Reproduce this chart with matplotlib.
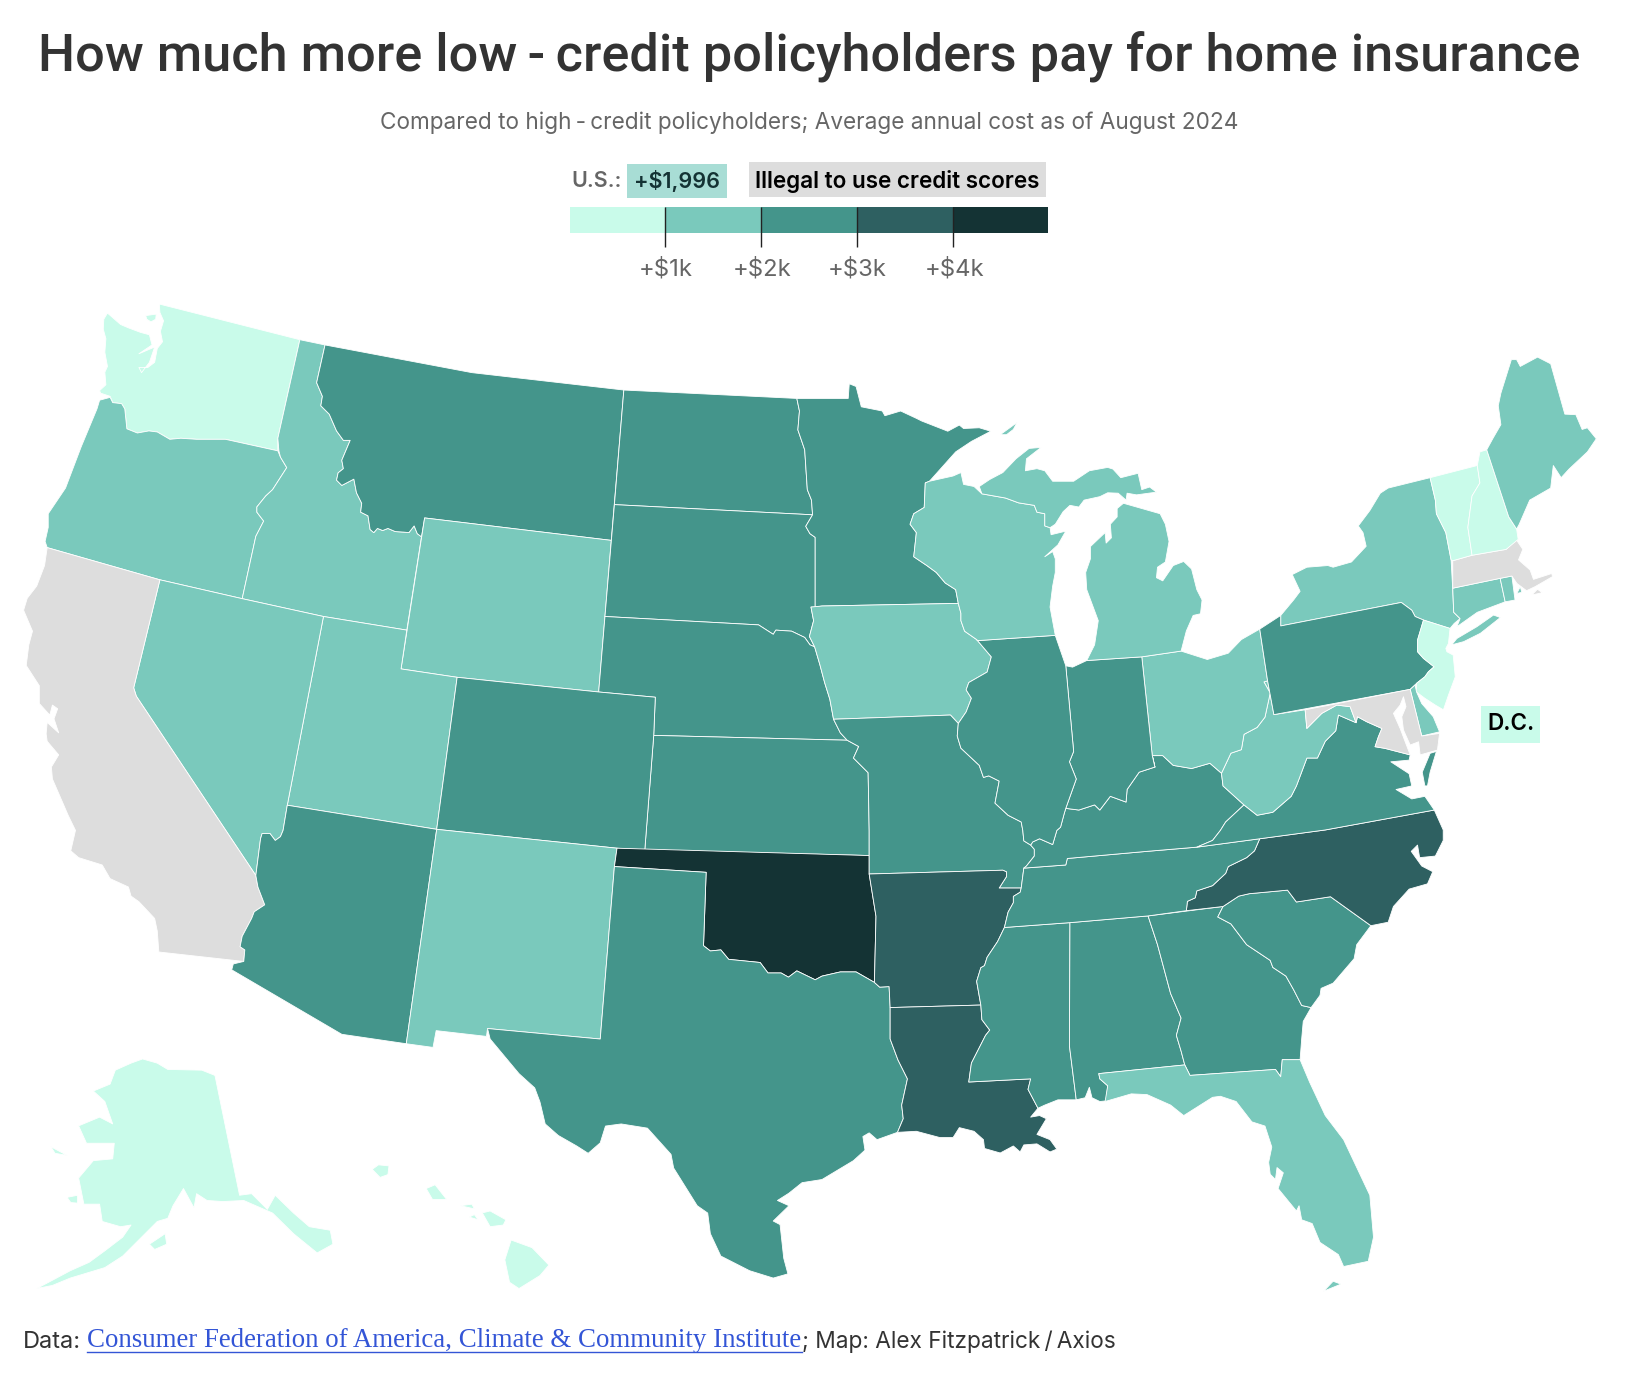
# home insurance map, state outlines (x, y in a 1568 wide frame)
import matplotlib
matplotlib.use('Agg')
import matplotlib.pyplot as plt
from matplotlib.patches import Polygon, Rectangle

W, H = 1568, 1312.4
FONT = ['Inter', 'DejaVu Sans']
TITLE_FONT = ['Roboto', 'Inter', 'DejaVu Sans']

title = 'How much more low\u2009-\u2009credit policyholders pay for home insurance'
subtitle = 'Compared to high\u2009-\u2009credit policyholders; Average annual cost as of August 2024'
us_label = 'U.S.:'
us_value = '+$1,996'
illegal_label = 'Illegal to use credit scores'
dc_label = 'D.C.'

bin_colors = ['#C9FBEA', '#7AC9BC', '#44958B', '#2E6061', '#143334']
illegal_color = '#DDDDDD'
us_color = '#A8DDD5'
tick_labels = ['+$1k', '+$2k', '+$3k', '+$4k']

state_bin = {
    'WA': 0, 'VT': 0, 'NH': 0, 'NJ': 0, 'AK': 0, 'HI': 0,
    'OR': 1, 'ID': 1, 'NV': 1, 'UT': 1, 'WY': 1, 'NM': 1, 'IA': 1, 'WI': 1, 'MI': 1, 'OH': 1,
    'WV': 1, 'NY': 1, 'CT': 1, 'RI': 1, 'DE': 1, 'ME': 1, 'FL': 1,
    'MT': 2, 'ND': 2, 'SD': 2, 'MN': 2, 'NE': 2, 'KS': 2, 'CO': 2, 'AZ': 2, 'TX': 2, 'MO': 2,
    'IL': 2, 'IN': 2, 'KY': 2, 'TN': 2, 'VA': 2, 'PA': 2, 'MS': 2, 'AL': 2, 'GA': 2, 'SC': 2,
    'AR': 3, 'LA': 3, 'NC': 3,
    'OK': 4,
    'CA': None, 'MA': None, 'MD': None,
}

# shared borders
OR_ID = [(265,418),(266,430),(267.5,436),(273.5,446),(260,467),(253.5,473),(245,483.5),(245,488.5),(251.5,497),(244,511.5),(231,571)]
OR_WA = [(107.5,384),(116,385),(119,390),(121,409),(131,413),(142,411),(150,412),(162,419),(172.5,418),(187.5,419),(215,419),(265,430)]
ID_MT = [(310,329),(302,365),(307.5,378),(306,387),(314,395),(321,411),(327.5,420),(334,420),(326,439),(327.5,447),(322.5,451),(321,458),(326,463),(337.5,457),(340,470),(345,480),(344,488.5),(351,492),(353,505),(356.5,508),(360,504),(365,506),(370,504),(377,507),(385,507.5),(390,508),(395,501.6),(398,509),(402,512)]
ND_MN = [(760,380),(762.5,392),(761,410),(767.5,429),(770,467),(774,477),(775,491)]
SD_MN = [(775,491),(768.5,502),(772.5,509),(777.5,512.5),(777.5,579)]
SD_IA = [(773.5,579),(776,592),(772,607),(777,617)]
SD_NE = [(577,588),(723.5,596),(737.5,605),(740,601),(755,602),(767.5,608),(772.5,615),(777,617)]
NE_IA = [(777,617),(782,634),(786.5,651),(791.5,667),(795,686)]
NE_MO = [(795,686),(801.5,699),(808,706)]
KS_MO = [(808,706),(819,712),(814,723),(828,737),(829,792),(829,816)]
OK_TX = [(671,902),(677.5,907),(687.5,906),(695,915),(725,918),(732.5,928),(745,928),(752,932),(760,926),(777.5,934.5),(784,931),(801.5,927),(816.5,927),(834,937)]
TX_AR = [(834,937),(839,941.5),(848,941),(849,961)]
TX_LA = [(849,961),(849,991),(856.5,1011),(865.5,1029),(860,1054),(861.5,1067),(856,1080)]
AR_MO = [(829,833.6),(956.5,830),(960,831.6),(960,836),(953,847),(974,847)]
AR_TN = [(974,847),(973,851),(966.5,855),(966.5,861),(961.5,870),(958,884.6)]
AR_MS = [(958,884.6),(951.5,898),(941.5,913),(939,921),(935.5,923),(931.5,936),(935.5,958.6)]
LA_MS = [(935.5,958.6),(936.5,972.5),(944,982.5),(940,987.5),(926.5,1014),(924,1032),(983,1029),(980.5,1039),(990,1057)]
MO_IL = [(914,690),(913,702),(916.5,713.6),(934,730),(938,741.5),(943,740),(953,745),(949,766),(961.5,777.6),(974,784),(975.5,792),(976.5,802),(983,806)]
MO_KY = [(983,806),(986.5,810),(986.5,816.5),(979,826),(976.5,828)]
IA_WI = [(914,575.5),(916.5,585),(916.5,592),(920,602),(931.5,610)]
IA_IL = [(931.5,610),(945.5,626.5),(941.5,641),(924,651),(921.5,658),(926.5,666),(921.5,679),(914,690)]
MN_WI = [(882.5,460.6),(881.5,484),(871.5,490),(868,500),(874,508),(871.5,531),(884,539.4),(893,546),(901.5,556),(911.5,562.4),(914,575.5)]
WI_MI = [(929,464),(936.5,471),(959,475),(971.5,479.6),(986.5,482),(989,488.5),(996.5,490),(996.5,501.6),(1001.5,503.3)]
IL_IN = [(1016.5,635),(1024,716.7),(1020,726.6),(1026.5,743),(1016.5,771)]
IL_KY = [(1016.5,771),(1015,776),(1011.5,789),(1008,792),(1004,805.5),(991.5,800),(985,803),(983,806)]
IN_KY = [(1101.5,731.6),(1086.5,736.5),(1075,753),(1074,765),(1059,759.5),(1049,772.6),(1044,767.7),(1029,772.6),(1016.5,771)]
OH_KY = [(1165,737.5),(1154,728),(1136.5,733),(1119,730),(1109,720.7),(1099,720.7),(1101.5,731.6)]
OH_WV = [(1205.5,650.4),(1211.5,661),(1206.5,684),(1199,693.8),(1186.5,700.4),(1184,715),(1174,718.4),(1165,737.5)]
KY_WV = [(1165,737.5),(1166.5,749.6),(1186.5,767.7)]
KY_VA = [(1186.5,767.7),(1169,784),(1164,792),(1156.5,801.6),(1141.5,808)]
KY_TN = [(1141.5,808),(1094,812),(1018,818.8),(1016.5,825),(976.5,828)]
TN_VA = [(1141.5,808),(1201.5,800)]
TN_NC = [(1201.5,800),(1196.5,811.5),(1189,818),(1171.5,826.5),(1169,833),(1156.5,844.7),(1141.5,849.7),(1140,856.3),(1132.5,859.7),(1131.5,868.6)]
TN_SOUTH = [(1131.5,868.6),(1095,873.6),(1020.5,880),(958,884.6)]
VA_WV = [(1186.5,767.7),(1199,777.6),(1214,774.7),(1231.5,759.5),(1236.5,749.6),(1246.5,723),(1256.5,723),(1264,707),(1274,697),(1276.5,682),(1293.4,689.3)]
VA_MD = [(1293.4,689.3),(1294.7,683.6),(1303.6,688.4),(1318,694.8),(1314.7,702.7),(1311.5,712.2),(1321,713.8),(1345,720)]
WV_MD = [(1244.8,677),(1246.4,694.8),(1260.7,680.4),(1275,672.5),(1287.7,674),(1293.4,689.3)]
PA_NY = [(1221.5,597),(1336.5,574.6),(1346.5,582),(1349.7,588),(1357.7,591.4)]
PA_NJ = [(1357.7,591.4),(1352,610.5),(1352,621.6),(1357.7,628),(1367.8,636),(1362.4,640.7),(1359,645.5),(1351,651.8)]
AL_GA = [(1095,873.6),(1104,901),(1116.5,947.6),(1126.5,971),(1122,987.5),(1126.5,1002.5),(1130,1015.7)]
GA_SC = [(1166.5,864.6),(1161.5,874.6),(1174,881.2),(1189,901),(1211.5,916),(1214,922.7),(1226.5,931),(1234,944.3),(1241.5,959),(1250.5,961)]
SC_NC = [(1166.5,864.6),(1181.5,854.7),(1191.5,852.4),(1228,849),(1236.5,860.3),(1269,855.3),(1307.5,882.9)]
AL_FL = [(1048,1024),(1049,1029),(1056.5,1035.6),(1055,1050)]
AZ_NV = [(274,768),(270,792),(267.5,798),(262.5,801.6),(257.5,795),(250,795),(248.5,800),(244,835)]
AZ_CA = [(244,835),(246,846),(252.5,863),(242.5,869.6),(240,876),(231,893),(229,903),(233.5,906),(232.5,917)]

outlines = {
    'WA': [[(152,290),(286,324),(265,418)] + OR_WA[::-1] + [(105,378),(96,375),(95,372.5),(101,367),(100,355),(102.5,349.5),(100,336),(101,323),(98.5,314),(99,304.5),(102.5,298.6),(115,309.5),(122.5,312.7),(134,317),(142.5,319.3),(145,329),(132.5,337.4),(147.5,331),(142.5,345.6),(135,355.4),(132.5,350.5),(141,350.5),(147.5,345.6),(150,332.4),(155,326),(153,316),(156,306),(152.5,298)],
           [(139,301),(149,299.6),(148.5,304.5),(144,307),(140,304.5)]],
    'OR': [[(95,381.7),(105,379)] + OR_WA + OR_ID[2:] + [(152.5,553),(45,522.3),(43,516.4),(46,503),(46,490),(62.5,465.5),(77.5,426),(92.5,390)]],
    'ID': [[(286,324)] + ID_MT + [(388,601),(308.5,588)] + OR_ID[::-1]],
    'MT': [[(310,329),(450,355.4),(595,372),(583,515.4),(405,494)] + ID_MT[::-1]],
    'WY': [[(405,494),(583,515.4),(571,660),(436,646),(382.5,638)]],
    'ND': [[(595,372)] + ND_MN + [(586,481.3)]],
    'SD': [[(586,481.3)] + SD_MN + SD_IA + SD_NE[::-1][1:]],
    'NE': [SD_NE + NE_IA[1:] + NE_MO[1:] + [(623.5,701.4),(625,665),(571,660)]],
    'KS': [[(623.5,701.4)] + KS_MO + [(615,810.5)]],
    'UT': [[(308.5,588),(388,601),(382.5,638),(436,646),(416.5,791),(274,768)]],
    'CO': [[(436,646),(571,660),(625,665),(623.5,701.4),(615,810.5),(588.5,809),(416.5,791)]],
    'NV': [[(152.5,553),(231,571),(308.5,588)] + AZ_NV + [(130,664),(127.5,656)]],
    'CA': [[(45,522.3),(152.5,553),(127.5,656),(130,664)] + AZ_CA + [(151.5,908),(150,888),(147.5,876),(132.5,860),(125,854.7),(122.5,846),(105,838),(97.5,825),(75,818),(67.5,811.5),(72,792),(65,777.6),(60,766),(50,743),(49,731.6),(56,720),(45,707),(44,700),(45,689),(56,699),(51.5,685.6),(55,676),(50,672.5),(47.5,682),(37.5,671),(37.5,654),(25,634.7),(27.5,615),(31,602),(22.5,582),(26,570.6),(35,559),(42.5,539.4)]],
    'AZ': [AZ_NV + AZ_CA[1:] + [(222.5,919.4),(221,925),(326,986.5),(387.5,995.5),(416.5,791)]],
    'NM': [[(416.5,791),(588.5,809),(586,826.5),(572.5,991),(465,981),(464,988.5),(416,983),(413,999),(387.5,995.5)]],
    'OK': [[(588.5,809),(829,816),(829,833.6),(835.5,874),(834,937)] + OK_TX[::-1][1:] + [(673.5,832),(586,826.5)]],
    'TX': [[(586,826.5),(673.5,832)] + OK_TX + TX_AR[1:] + TX_LA[1:] + [(836.5,1087),(829,1080.5),(823,1084),(825,1097),(814,1107),(784,1125),(765,1128),(752.5,1138),(741.5,1145),(752.5,1150),(737.5,1164.6),(744,1168),(747.5,1200),(751.5,1215),(737.5,1219),(715,1212),(687.5,1198),(677.5,1176.6),(675,1157),(665,1150),(642.5,1114),(640,1101),(617.5,1076),(592.5,1072),(577.5,1074),(572.5,1090),(561,1100),(550,1093),(532.5,1083),(520,1072),(515,1051),(510,1037.6),(495,1024),(480,1006),(467.5,991),(465,981),(572.5,991)]],
    'MN': [ND_MN[::-1][-1:] + [(809,380),(810,366),(816.5,368.6),(821.5,388),(841.5,392),(844,396.5),(859,392),(874,399),(879,401.5),(904,411.3),(915,405.4),(919,408.7),(934,408),(945,411.3),(926.5,421),(911.5,431),(886.5,459)] + MN_WI + [(784,578),(777.5,579)] + SD_MN[::-1][1:] + ND_MN[::-1][1:]],
    'IA': [SD_IA + NE_IA[1:] + [(906.5,682),(914,690)] + IA_IL[::-1][1:] + IA_WI[::-1][1:] + [(784,578)]],
    'MO': [[(795,686),(906.5,682),(914,690)] + MO_IL[1:] + MO_KY[1:] + [(974,847),(953,847),(960,836),(960,831.6),(956.5,830),(829,833.6),(829,816)] + KS_MO[::-1][1:] + NE_MO[::-1][1:]],
    'AR': [AR_MO + AR_TN[1:] + AR_MS[1:] + [(849,961)] + TX_AR[::-1][1:] + [(835.5,874)]],
    'LA': [[(849,961),(935.5,958.6)] + LA_MS[1:] + [(983,1065.5),(991.5,1064),(998,1067),(989,1082),(1001.5,1087),(1008,1096),(1001.5,1098.7),(989,1091),(976.5,1092),(973,1098.7),(966.5,1093),(954,1099.7),(939,1095.4),(938,1087),(929,1079),(915,1075.5),(909,1085),(896.5,1085),(874,1079)] + TX_LA[::-1][:-1]],
    'MS': [[(958,884.6),(1020.5,880),(1020,997.5),(1026.5,1049),(1009,1049),(996.5,1054),(990,1057)] + LA_MS[::-1][1:] + AR_MS[::-1][1:]],
    'AL': [[(1020.5,880)] + AL_GA + AL_FL + [(1049,1050.6),(1041.5,1047),(1039,1037),(1035,1047),(1026.5,1049),(1020,997.5)]],
    'GA': [AL_GA + [(1135,1025.7),(1216.5,1020),(1221.5,1027),(1223,1010.7),(1240,1010.7),(1241.5,991),(1243,974.2)] + GA_SC[::-1] + [(1095,873.6)]],
    'SC': [SC_NC + [(1294,901),(1291.5,914.4),(1271.5,937.7),(1260,942.7),(1259,949.3)] + GA_SC[::-1]],
    'NC': [[(1201.5,800),(1264,791.6),(1368,772.6),(1376.5,791.6),(1376.5,801.6),(1369,816.5),(1354,818),(1352,806),(1346,812),(1356,826),(1366.5,831.4),(1361.5,843),(1344,848),(1329,864.6),(1324,879.6)] + SC_NC[::-1] + TN_NC[::-1]],
    'TN': [KY_TN[::-1] + TN_VA[1:] + TN_NC[1:] + TN_SOUTH[1:] + AR_TN[::-1][1:]],
    'KY': [KY_TN + MO_KY[::-1][1:] + IL_KY[::-1][1:] + IN_KY[::-1][1:] + OH_KY[::-1][1:] + KY_WV[1:] + KY_VA[1:]],
    'VA': [KY_VA[:1] + VA_WV[1:] + VA_MD[1:] + [(1344,725),(1326.5,726.6),(1344,738),(1346.5,749.6),(1331.5,753),(1346.5,762),(1359,759.5),(1368,772.6),(1264,791.6),(1201.5,800)] + TN_VA[::-1][1:] + KY_VA[::-1][1:-1],
           [(1359,749.6),(1356.5,736.5),(1364,718.5),(1370,716.7),(1364,736.5),(1361.5,749.6)]],
    'WV': [[(1209,649.4),(1215,681.6),(1244.8,677)] + WV_MD[1:] + VA_WV[::-1][1:] + KY_WV[::-1][1:] + OH_WV[::-1][1:]],
    'OH': [[(1089,626.5),(1126.5,621),(1151.5,629),(1171.5,623),(1184,610),(1201.5,600),(1209,649.4)] + OH_WV + OH_KY[1:] + [(1099,720.7)]],
    'IN': [[(1036.5,630),(1089,626.5),(1099,720.7)] + IN_KY + IL_IN[::-1][1:] + [(1023,636.3)]],
    'IL': [[(931.5,610),(932.5,611),(1006.5,606)] + IL_IN + IL_KY[1:] + MO_IL[::-1][1:] + IA_IL[::-1][:-1]],
    'WI': [[(882.5,460.6),(886.5,459),(909,454),(916.5,450.7),(919,462)] + WI_MI + [(1002.5,510),(1016.5,506.6),(1009,519.7),(996.5,531),(1004,526),(1006.5,533),(1006.5,546),(1004,559),(1001.5,579),(1006.5,606),(932.5,611),(931.5,610)] + IA_WI[::-1][1:] + MN_WI[::-1][1:]],
    'MI': [[(934,464)] + WI_MI[1:] + [(1006.5,500),(1014,488),(1020.5,482),(1029,483.6),(1034,477),(1049,473.7),(1056.5,470),(1066.5,470.4),(1074,477),(1075,470.4),(1084,472),(1103,469.4),(1096.5,464.5),(1089,467),(1085.5,451.4),(1069,455.6),(1061.5,447.4),(1056.5,445.8),(1039,449),(1024,459),(1004,459),(996.5,449),(989,447),(978,449),(979,437.6),(993,426.7),(981.5,427.7),(969,437.6),(956.5,450.7),(944,457.3)],
           [(954,414.6),(970,403),(966.5,409.6),(960,414.6)],
           [(1071.5,480),(1089,485),(1106.5,490),(1111.5,500),(1115,516.4),(1111.5,536),(1104,541),(1103,551),(1109,554),(1119,539.4),(1129,535.5),(1136.5,542.7),(1141.5,562.4),(1146.5,572.3),(1145,585.4),(1138,587),(1131.5,601.8),(1126.5,621),(1089,626.5),(1036.5,630),(1044,615),(1047.5,592),(1036.5,562.4),(1035.5,546),(1040,533),(1040,521.3),(1054,508),(1055,518),(1060,513),(1059,500),(1065.5,493),(1065.5,485)]],
    'NY': [[(1324,465.5),(1364,455.6),(1369,477),(1370,490),(1379,508),(1384,534),(1385.5,560.8),(1386.5,584),(1392.6,590),(1387,594.6),(1383,599.4),(1357.7,591.4)] + PA_NY[::-1][1:] + [(1221.5,587),(1234,572),(1240,564),(1232.5,548),(1246.5,541),(1266.5,539.4),(1271.5,541),(1289,536),(1303,521),(1300,508),(1295.5,501.6),(1306.5,487),(1316.5,470.4)],
           [(1431,589),(1424.5,586.6),(1408.5,597.8),(1389.5,609),(1384.7,615),(1396,612),(1412,604)]],
    'PA': [[(1201.5,600),(1221.5,587)] + PA_NY + PA_NJ[1:] + [(1345,657.5),(1215,681.6),(1209,649.4)]],
    'NJ': [PA_NJ + [(1350.7,659.8),(1359,666),(1369,672.5),(1376.7,677),(1381.5,663),(1388,645.5),(1386,624.8),(1380,621.6),(1379,618.4),(1381.5,613.7),(1383,599.4)]],
    'DE': [[(1345,657.5),(1349.7,653.4),(1351,659.8),(1356,671),(1367,683.6),(1373,698),(1356,702)]],
    'MD': [[(1244.8,677),(1345,657.5),(1356,702),(1373,699.5),(1371,715.4),(1354.5,720),(1353,707.5),(1345,710.6),(1338.6,696.3),(1337,683.6),(1341,674),(1338.6,664.5),(1335.4,672.5),(1329,680.4),(1335.4,694.8),(1345,720)] + VA_MD[::-1][1:] + WV_MD[::-1][1:]],
    'CT': [[(1385.6,561),(1430.8,551.6),(1435.6,574),(1409,584),(1389.5,597.8),(1392.6,590),(1386.5,584)]],
    'RI': [[(1430.8,551.6),(1442,549.4),(1445,572.3),(1435.6,574)],
           [(1446.7,566),(1450,559.6),(1451.5,565)]],
    'MA': [[(1385.6,534.8),(1404,529.6),(1436.5,524),(1446,514.4),(1452.4,524),(1448.3,534),(1459.4,543.7),(1462.6,552.6),(1480,547),(1480.7,550),(1464,559.6),(1456,563.4),(1446.7,556.4),(1442,549.4),(1430.8,551.6),(1385.6,561)],
           [(1461,567.5),(1466.4,562),(1471,565.3)]],
    'VT': [[(1364,455.6),(1409,444),(1411.5,460.6),(1404,473),(1400,503),(1404,529.6),(1385.6,534.8),(1384,534),(1379,508),(1370,490),(1369,477)]],
    'NH': [[(1409,444),(1411.5,431),(1418,429),(1439,493),(1446.5,504.6),(1448,514.4),(1436.5,524),(1404,529.6),(1400,503),(1404,473),(1411.5,460.6)]],
    'ME': [[(1418,429),(1424,418),(1431.5,405),(1429,387),(1431.5,375),(1441.5,343),(1446.5,343),(1450,349.5),(1466.5,340.6),(1479,347),(1492.5,395),(1503,395.5),(1509,409.6),(1514,408),(1522.5,418.5),(1514,431),(1496.5,447.4),(1489,455.6),(1481.5,444),(1479,465.5),(1459,477),(1449,500),(1446.5,504.6),(1439,493)]],
    'FL': [AL_FL[:3] + [(1054,1050.6),(1079,1043.3),(1094,1044),(1116.5,1054),(1129,1064),(1156.5,1046.6),(1164,1045.6),(1179,1050.6),(1194,1070),(1206.5,1074),(1213,1094),(1210,1108.6),(1211.5,1120),(1216.5,1125),(1218,1113.6),(1224,1118.6),(1219,1133.6),(1236.5,1155),(1239,1150),(1241.5,1163.4),(1251.5,1167),(1259,1185),(1276.5,1196.6),(1281.5,1208),(1305,1203),(1310,1180),(1306.5,1140),(1281.5,1087),(1264,1064),(1249,1032),(1240,1010.7),(1223,1010.7),(1221.5,1027),(1216.5,1020),(1135,1025.7),(1130,1015.7)],
           [(1262.5,1231.5),(1271.5,1222),(1279,1224.8)]],
    'AK': [[(136,1010),(150,1014),(160,1020),(192.5,1020.7),(205,1025.7),(228.5,1140),(240,1138.5),(255,1153.5),(262.5,1140),(280,1157),(295,1170),(315,1173.4),(317.5,1186.7),(302.5,1195),(280,1176.7),(260,1157),(232.5,1145),(212.5,1146),(197.5,1145),(187.5,1138.5),(185,1152),(175,1133.6),(165,1150),(160,1162),(150,1165),(135,1180),(117,1198),(100,1209),(67,1219),(50,1226),(35,1229),(52,1220),(67,1212),(85,1204),(100,1193),(117,1180),(125,1168.4),(115,1170),(97.5,1165),(95,1148.5),(80,1148.5),(75,1123.6),(89,1107),(107.5,1105.3),(109,1090.4),(82.5,1090.4),(75,1073.8),(95,1065.5),(107.5,1072),(100,1050.6),(89,1040.6),(105,1034),(110,1020.7),(125,1014)],
           [(48.5,1093.7),(64,1102),(52.5,1100)],
           [(64,1142),(74,1140),(74,1147.5),(67.5,1147)],
           [(142.5,1186.7),(157.5,1176.7),(159,1186.7),(147.5,1191.7)]],
    'HI': [[(355,1115.3),(361,1111),(371,1112),(370,1120.3),(362.5,1123)],
           [(406.5,1133.6),(415,1130),(426,1144),(412.5,1144)],
           [(439,1150),(450,1148.5),(452.5,1153)],
           [(447.5,1160.8),(452.5,1158.5),(456,1163.4)],
           [(460,1156.8),(467.5,1155),(482.5,1163.4),(480,1168.4),(467.5,1170)],
           [(487.5,1182.7),(507.5,1190),(523.5,1206.6),(515,1216.6),(495,1229),(486,1223),(481.5,1201.6)]],
}

fig = plt.figure(figsize=(16.44, 13.76), dpi=100)
ax = fig.add_axes([0, 0, 1, 1])
ax.set_xlim(0, W)
ax.set_ylim(H, 0)
ax.axis('off')

for st, polys in outlines.items():
    b = state_bin[st]
    col = illegal_color if b is None else bin_colors[b]
    for p in polys:
        ax.add_patch(Polygon(p, closed=True, facecolor=col, edgecolor='white', linewidth=0.6, joinstyle='round'))

# titles
ax.text(772, 54, title, ha='center', va='center', fontsize=37.6, color='#333333', family=TITLE_FONT, fontweight='medium')
ax.text(772, 117, subtitle, ha='center', va='center', fontsize=16.25, color='#666666', family=FONT)

# legend
edges = [544, 634, 726, 817, 909, 1000]
for i, c in enumerate(bin_colors):
    ax.add_patch(Rectangle((edges[i], 197.5), edges[i + 1] - edges[i], 24.5, facecolor=c, edgecolor='none'))
for x, lab in zip(edges[1:5], tick_labels):
    ax.plot([x, x], [197.5, 235.5], color='#222222', lw=1.0, solid_capstyle='butt')
    ax.text(x + 1, 257, lab, ha='center', va='center', fontsize=17.2, color='#666666', family=FONT)

ax.text(545, 173, us_label, ha='left', va='center', fontsize=15.5, color='#666666', family=FONT, fontweight='semibold')
ax.add_patch(Rectangle((598, 156.5), 95, 32.5, facecolor=us_color, edgecolor='none'))
ax.text(645.5, 173, us_value, ha='center', va='center', fontsize=15.5, color='#143334', family=FONT, fontweight='semibold')
ax.add_patch(Rectangle((714, 154.5), 284, 33.5, facecolor=illegal_color, edgecolor='none'))
ax.text(856, 173, illegal_label, ha='center', va='center', fontsize=16.2, color='black', family=FONT, fontweight='semibold')
ax.add_patch(Rectangle((1412.7, 673.4), 56.3, 35, facecolor=bin_colors[0], edgecolor='none'))
ax.text(1441, 691, dc_label, ha='center', va='center', fontsize=16.2, color='black', family=FONT, fontweight='semibold')

# footer
ax.text(22, 1280, 'Data:', ha='left', va='center', fontsize=17, color='#333333', family=FONT)
ax.text(83, 1279, 'Consumer Federation of America, Climate & Community Institute', ha='left', va='center',
        fontsize=19.4, color='#3355D6', family='Liberation Serif')
ax.plot([83, 765], [1289.5, 1289.5], color='#3355D6', lw=1.0)
ax.text(765, 1280, '; Map: Alex Fitzpatrick\u2009/\u2009Axios', ha='left', va='center', fontsize=16.3, color='#333333', family=FONT)

fig.savefig('out.png', dpi=100)
